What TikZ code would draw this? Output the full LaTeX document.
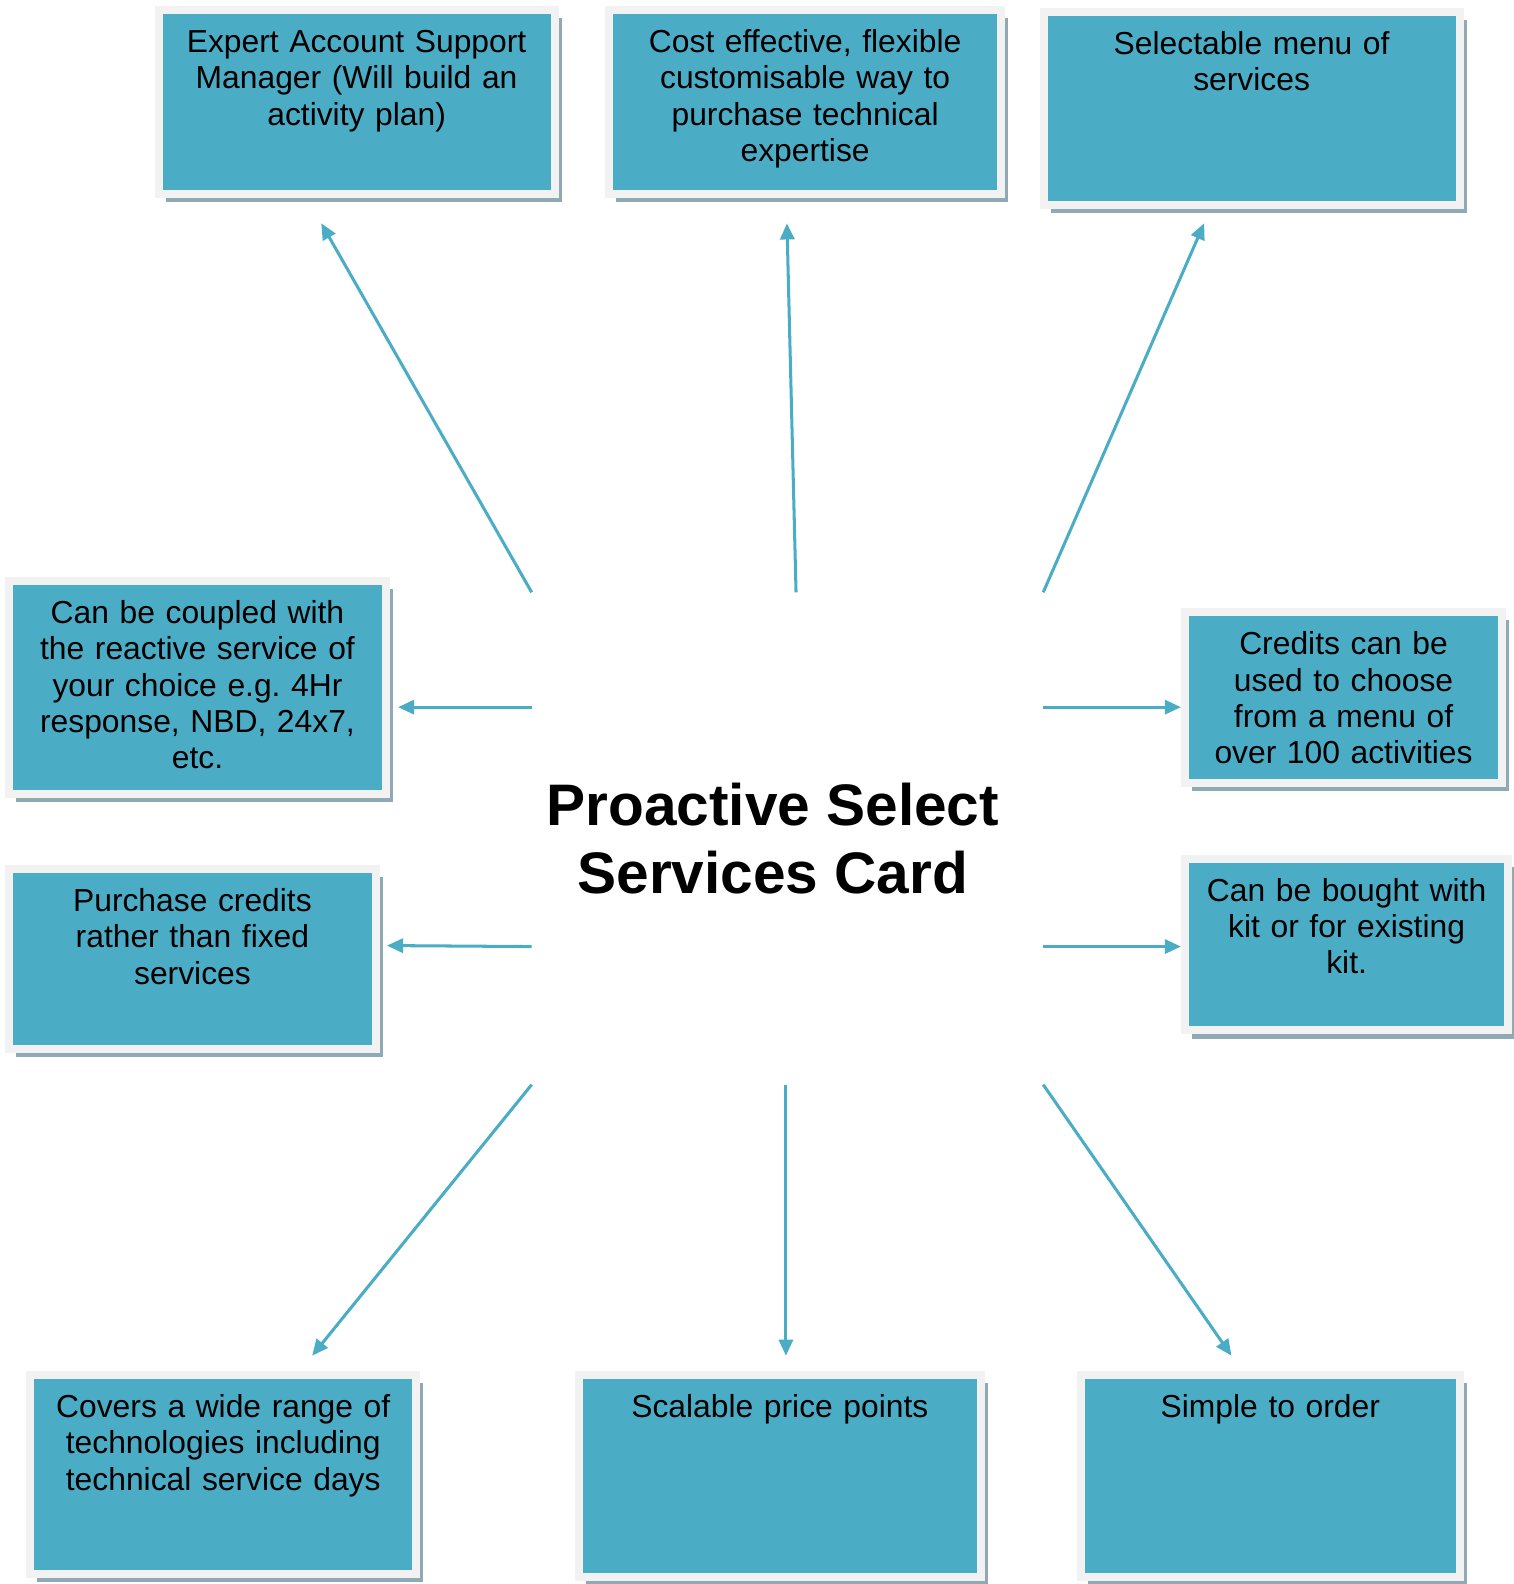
\documentclass[tikz,border=0pt]{standalone}
\usepackage{fontspec}
\setmainfont{Liberation Sans}
\usepackage{xcolor}
\usepackage{tikz}
\usetikzlibrary{arrows.meta, calc, shadows}
\definecolor{boxcolor}{RGB}{75,172,198}
\definecolor{rimcolor}{RGB}{242,242,242}
\definecolor{shadecolor}{RGB}{143,170,180}
\definecolor{linkcolor}{RGB}{75,172,198}
\newcommand{\boxfont}{\fontsize{8.96pt}{10.25pt}\selectfont}
\newcommand{\titlefont}{\fontsize{16.5pt}{19.35pt}\selectfont\bfseries}
\frenchspacing

\begin{document}
\begin{tikzpicture}[
    x=0.1mm, y=-0.1mm,
    box/.style={draw=rimcolor, line width=0.8mm, fill=boxcolor, inner sep=0pt, outer sep=0pt, anchor=north west, align=center, font=\boxfont, text height=4.2mm, drop shadow={shadow xshift=0.7mm, shadow yshift=-0.8mm, fill=shadecolor, opacity=1}},
    title/.style={minimum width=47.6mm, minimum height=48.6mm, inner sep=0pt, align=center, font=\titlefont},
    link/.style={-{Triangle[length=1.6mm, width=1.4mm]}, line width=0.3mm, linkcolor}
]
    \useasboundingbox (0,0) rectangle (1498,1568);

    % Centre
    \node[title] (card) at (765,830) {Proactive Select\\Services Card};

    % Boxes
    \node[box, text width=39.2mm, text depth=14.0mm] (expert) at (157,10) {Expert Account Support\\Manager (Will build an\\activity plan)};
    \node[box, text width=38.8mm, text depth=14.0mm] (cost) at (603,10) {Cost effective, flexible\\customisable way to\\purchase technical\\expertise};
    \node[box, text width=41.2mm, text depth=14.9mm] (menu) at (1033,12) {Selectable menu of\\services};

    \node[box, text width=37.3mm, text depth=16.9mm] (coupled) at (9,575) {Can be coupled with\\the reactive service of\\your choice e.g. 4Hr\\response, NBD, 24x7,\\etc.};
    \node[box, text width=36.3mm, text depth=13.6mm] (purchase) at (9,860) {Purchase credits\\rather than fixed\\services};
    \node[box, text width=31.4mm, text depth=12.7mm] (credits) at (1173,606) {Credits can be\\used to choose\\from a menu of\\over 100 activities};
    \node[box, text width=32.0mm, text depth=12.8mm] (bought) at (1173,850) {Can be bought with\\kit or for existing\\kit.};

    \node[box, text width=38.2mm, text depth=15.5mm] (covers) at (30,1361) {Covers a wide range of\\technologies including\\technical service days};
    \node[box, text width=39.8mm, text depth=15.8mm] (scalable) at (573,1361) {Scalable price points};
    \node[box, text width=37.5mm, text depth=15.8mm] (simple) at (1070,1361) {Simple to order};

    % Arrow tips
    \coordinate (expert tip) at (318,221);
    \coordinate (cost tip) at (779,221);
    \coordinate (menu tip) at (1192,221);
    \coordinate (coupled tip) at (394,700);
    \coordinate (purchase tip) at (383,936);
    \coordinate (credits tip) at (1169,700);
    \coordinate (bought tip) at (1169,937);
    \coordinate (covers tip) at (309,1342);
    \coordinate (scalable tip) at (778,1342);
    \coordinate (simple tip) at (1219,1342);

    % Links
    \draw[link] (card.north west) -- (expert tip);
    \draw[link] ($(card.north)+(23,0)$) -- (cost tip);
    \draw[link] ($(card.north east)+(29,0)$) -- (menu tip);
    \draw[link] ($(card.west)+(0,-130)$) -- (coupled tip);
    \draw[link] ($(card.west)+(0,107)$) -- (purchase tip);
    \draw[link] ($(card.east)+(29,-130)$) -- (credits tip);
    \draw[link] ($(card.east)+(29,107)$) -- (bought tip);
    \draw[link] (card.south west) -- (covers tip);
    \draw[link] ($(card.south)+(13,0)$) -- (scalable tip);
    \draw[link] ($(card.south east)+(29,0)$) -- (simple tip);
\end{tikzpicture}
\end{document}
